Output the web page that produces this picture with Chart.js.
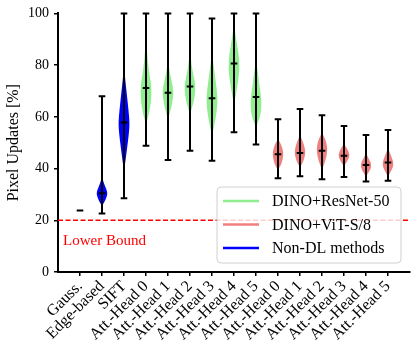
<!DOCTYPE html>
<html>
<head>
<meta charset="utf-8">
<script src="https://cdn.jsdelivr.net/npm/chart.js@4"></script>
<style>
  html, body { margin: 0; padding: 0; background: #fff; }
  #wrap { width: 416px; height: 352px; }
</style>
</head>
<body>
<div id="wrap"><canvas id="violinChart" width="416" height="352"></canvas></div>
<script>
// Data
const categories = ['Gauss.', 'Edge-based', 'SIFT',
    'Att.-Head 0', 'Att.-Head 1', 'Att.-Head 2', 'Att.-Head 3', 'Att.-Head 4', 'Att.-Head 5',
    'Att.-Head 0', 'Att.-Head 1', 'Att.-Head 2', 'Att.-Head 3', 'Att.-Head 4', 'Att.-Head 5'];
const groupOf = [2, 2, 2, 0, 0, 0, 0, 0, 0, 1, 1, 1, 1, 1, 1];
const mins    = [23.8, 22.6, 28.5, 48.8, 43.3, 46.9, 43.0, 54.0, 49.3, 36.3, 37.0, 35.9, 36.7, 35.0, 35.3];
const maxs    = [23.8, 68.0, 100, 100, 100, 100, 98.0, 100, 100, 59.1, 63.0, 60.6, 56.5, 53.0, 54.9];
const medians = [23.8, 30.5, 57.8, 71.2, 69.3, 71.7, 67.2, 80.6, 67.7, 45.5, 46.0, 46.9, 45.0, 41.4, 42.3];

// density outline per violin: [value, relative width]
const densities = [
    [],
    [[25.5, 0], [27, 0.45], [29, 0.85], [30.5, 1], [32, 0.8], [34, 0.4], [36, 0.1], [37, 0]],
    [[39, 0], [42, 0.2], [46, 0.45], [51, 0.75], [55, 0.95], [58, 1], [62, 0.85], [67, 0.6], [72, 0.35], [76, 0.15], [80, 0]],
    [[57, 0], [60, 0.4], [63, 0.7], [66, 0.9], [70, 1], [73, 0.9], [77, 0.6], [81, 0.35], [85, 0.2], [89, 0.08], [93, 0]],
    [[59, 0], [62, 0.4], [65, 0.75], [69, 1], [72, 0.85], [75, 0.55], [78, 0.25], [81, 0.05], [83, 0]],
    [[61, 0], [64, 0.45], [67, 0.8], [71, 1], [74, 0.85], [77, 0.55], [80, 0.3], [84, 0.1], [87, 0]],
    [[53, 0], [56, 0.35], [60, 0.7], [64, 0.95], [67, 1], [71, 0.85], [75, 0.6], [79, 0.35], [83, 0.1], [85, 0]],
    [[65, 0], [68, 0.3], [72, 0.6], [76, 0.9], [80, 1], [84, 0.85], [88, 0.55], [92, 0.25], [96, 0]],
    [[56, 0], [59, 0.6], [62, 0.9], [65, 1], [68, 0.9], [72, 0.65], [76, 0.4], [80, 0.15], [83, 0]],
    [[39.5, 0], [41, 0.45], [43, 0.8], [45.5, 1], [48, 0.8], [50, 0.4], [51.5, 0]],
    [[40.5, 0], [42, 0.45], [44, 0.8], [46.5, 1], [49, 0.75], [51, 0.4], [53, 0]],
    [[39.5, 0], [41.5, 0.35], [44, 0.75], [47, 1], [50, 0.8], [52, 0.45], [54, 0]],
    [[41, 0], [42.5, 0.55], [44.5, 0.95], [45.5, 1], [47.5, 0.65], [49.5, 0]],
    [[37, 0], [38.5, 0.5], [40.5, 1], [42.5, 0.85], [44, 0.45], [46, 0]],
    [[37, 0], [38.5, 0.45], [40.5, 0.9], [42, 1], [44, 0.75], [46, 0.35], [48, 0]]
];

const yTicks = [0, 20, 40, 60, 80, 100];
const legendLabels = ['DINO+ResNet-50', 'DINO+ViT-S/8', 'Non-DL methods'];
const lowerBound = 20;
const lowerBoundLabel = 'Lower Bound';

const groupColors = ['#90EE90', '#F08080', '#0000FF'];
const serif = "'Liberation Serif', 'DejaVu Serif', serif";

const violinPlugin = {
    id: 'violins',
    beforeDatasetsDraw(chart) {
        const ctx = chart.ctx;
        const xs = chart.scales.x, ys = chart.scales.y;
        const hw = 0.25;
        ctx.save();
        densities.forEach(function(prof, i) {
            if (!prof.length) return;
            const pos = i + 1;
            const right = prof.map(p => [xs.getPixelForValue(pos + p[1] * hw), ys.getPixelForValue(p[0])]);
            const left = prof.slice().reverse().map(p => [xs.getPixelForValue(pos - p[1] * hw), ys.getPixelForValue(p[0])]);
            const pts = right.concat(left);
            ctx.beginPath();
            ctx.moveTo(pts[0][0], pts[0][1]);
            for (let k = 1; k < pts.length - 1; k++) {
                const mx = (pts[k][0] + pts[k + 1][0]) / 2;
                const my = (pts[k][1] + pts[k + 1][1]) / 2;
                ctx.quadraticCurveTo(pts[k][0], pts[k][1], mx, my);
            }
            ctx.lineTo(pts[pts.length - 1][0], pts[pts.length - 1][1]);
            ctx.closePath();
            ctx.fillStyle = groupColors[groupOf[i]];
            ctx.fill();
        });
        ctx.restore();
    },
    afterDatasetsDraw(chart) {
        const ctx = chart.ctx;
        const xs = chart.scales.x, ys = chart.scales.y;
        const cap = 0.15;
        ctx.save();
        ctx.strokeStyle = '#000';
        ctx.lineWidth = 2;
        categories.forEach(function(c, i) {
            const pos = i + 1;
            const x = xs.getPixelForValue(pos);
            const x0 = xs.getPixelForValue(pos - cap), x1 = xs.getPixelForValue(pos + cap);
            const yMin = ys.getPixelForValue(mins[i]);
            const yMax = ys.getPixelForValue(maxs[i]);
            const yMed = ys.getPixelForValue(medians[i]);
            ctx.beginPath();
            ctx.moveTo(x, yMin); ctx.lineTo(x, yMax);
            [yMin, yMax, yMed].forEach(function(y) {
                ctx.moveTo(x0, y); ctx.lineTo(x1, y);
            });
            ctx.stroke();
        });
        // lower bound label
        ctx.fillStyle = '#FF0000';
        ctx.font = '15px ' + serif;
        ctx.textAlign = 'left';
        ctx.textBaseline = 'middle';
        ctx.fillText(lowerBoundLabel, xs.getPixelForValue(0.23), ys.getPixelForValue(12));
        ctx.restore();
    },
    afterDraw(chart) {
        const ctx = chart.ctx;
        const area = chart.chartArea;
        const w = 184, h = 76;
        const bx = area.right - 9 - w, by = area.bottom - 9 - h;
        ctx.save();
        ctx.beginPath();
        ctx.roundRect(bx, by, w, h, 4);
        ctx.fillStyle = 'rgba(255,255,255,0.8)';
        ctx.fill();
        ctx.strokeStyle = '#D0D0D0';
        ctx.lineWidth = 1;
        ctx.stroke();
        ctx.font = '16px ' + serif;
        ctx.textAlign = 'left';
        ctx.textBaseline = 'middle';
        legendLabels.forEach(function(lbl, k) {
            const y = by + 14 + k * 23.5;
            ctx.strokeStyle = groupColors[k];
            ctx.lineWidth = 2.5;
            ctx.beginPath();
            ctx.moveTo(bx + 6, y); ctx.lineTo(bx + 42, y);
            ctx.stroke();
            ctx.fillStyle = '#000';
            ctx.fillText(lbl, bx + 55, y + 1);
        });
        ctx.restore();
    }
};

const ctx = document.getElementById('violinChart').getContext('2d');
const violinChart = new Chart(ctx, {
    type: 'scatter',
    data: {
        datasets: [{
            type: 'line',
            label: 'Lower Bound',
            data: [{ x: 0, y: lowerBound }, { x: 16, y: lowerBound }],
            borderColor: '#FF0000',
            borderWidth: 1.5,
            borderDash: [5, 2.5],
            pointRadius: 0,
            fill: false
        }]
    },
    options: {
        responsive: false,
        animation: false,
        layout: { padding: { top: 12, right: 6, left: 0, bottom: 0 } },
        plugins: {
            legend: { display: false },
            tooltip: { enabled: false }
        },
        scales: {
            x: {
                type: 'linear',
                min: 0,
                max: 16,
                afterBuildTicks: function(axis) {
                    axis.ticks = categories.map((c, i) => ({ value: i + 1 }));
                },
                afterFit: function(axis) { axis.height = 80; },
                ticks: {
                    autoSkip: false,
                    minRotation: 45,
                    maxRotation: 45,
                    color: '#000',
                    padding: 1,
                    font: { family: serif, size: 16 },
                    callback: function(value) { return categories[value - 1]; }
                },
                grid: {
                    drawOnChartArea: false,
                    color: '#000',
                    lineWidth: 1.5,
                    tickLength: 4
                },
                border: { color: '#000', width: 2 }
            },
            y: {
                min: 0,
                max: 100,
                afterBuildTicks: function(axis) {
                    axis.ticks = yTicks.map(v => ({ value: v }));
                },
                afterFit: function(axis) { axis.width = 58; },
                ticks: {
                    color: '#000',
                    padding: 5,
                    font: { family: serif, size: 14 }
                },
                grid: {
                    drawOnChartArea: false,
                    color: '#000',
                    lineWidth: 1.5,
                    tickLength: 4
                },
                border: { color: '#000', width: 2 },
                title: {
                    display: true,
                    text: 'Pixel Updates [%]',
                    color: '#000',
                    font: { family: serif, size: 16 },
                    padding: { top: 4, bottom: 4 }
                }
            }
        }
    },
    plugins: [violinPlugin]
});
</script>
</body>
</html>
